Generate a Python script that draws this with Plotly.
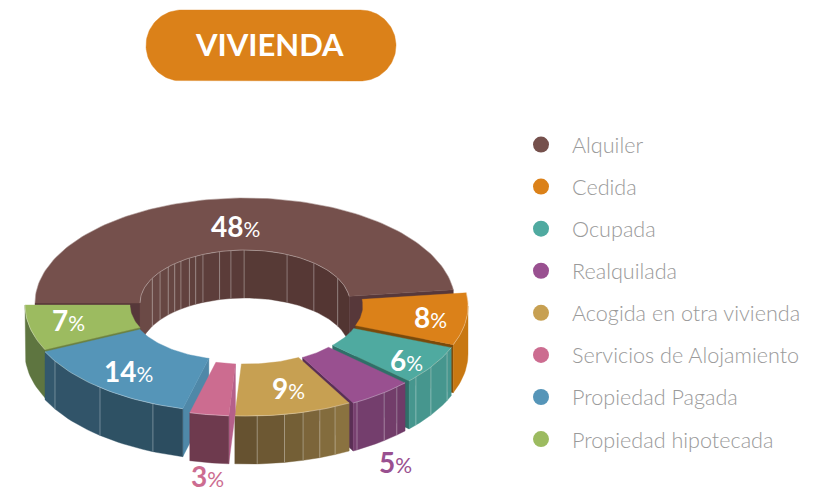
import math
import plotly.graph_objects as go

# ---- data ----
categories = ["Alquiler", "Cedida", "Ocupada", "Realquilada",
              "Acogida en otra vivienda", "Servicios de Alojamiento",
              "Propiedad Pagada", "Propiedad hipotecada"]
shares = [48, 8, 6, 5, 9, 3, 14, 7]

# ---- styles ----
top_colors = ["#75504C", "#DB8119", "#4FAAA0", "#995090", "#C7A052", "#CC6C90", "#5595B8", "#9CBB60"]
wall_from = ["#6B4A46", "#C87812", "#46968E", "#6F3B68", "#8A7240", "#6E3A4E", "#2C4D60", "#5E7540"]
wall_to = ["#523532", "#C87812", "#46968E", "#77406F", "#665230", "#6E3A4E", "#33586D", "#5E7540"]
cut_colors = ["#57383A", "#7A4A0A", "#2F6F68", "#5A2F55", "#8A7240", "#B5608A", "#4F88A8", "#6A8040"]
offsets = [(0, 0), (13, 3), (11, 6), (7, 8), (3, 8), (-3, 8), (-10, 4), (-10, 2)]
wall_lines = [
    [-62, -54, -47, -42, -37.6, -32, -28, -23.6, -14, -7.7, -0.5, 23.6, 41, 62],
    [],
    [114.5, 123.6, 130.4],
    [136.4, 141, 150],
    [155.5, 160, 164.8, 170, 177.5],
    [],
    [203, 220, 239],
    [],
]
CX, CY, RX, RY, IX, IY, DEPTH = 245, 303, 210, 105, 105, 53, 48
START = -90


def pt(rx, ry, phi, off, dz=0):
    p = math.radians(phi)
    return (CX + off[0] + rx * math.sin(p), CY + off[1] - ry * math.cos(p) + dz)


def arc(rx, ry, a, b, off, dz=0, step=1.5):
    n = max(2, int(abs(b - a) / step) + 1)
    return [pt(rx, ry, a + (b - a) * i / (n - 1), off, dz) for i in range(n)]


def mix(c1, c2, t):
    a = [int(c1[i:i + 2], 16) for i in (1, 3, 5)]
    b = [int(c2[i:i + 2], 16) for i in (1, 3, 5)]
    return "#%02X%02X%02X" % tuple(round(x + (y - x) * t) for x, y in zip(a, b))


fig = go.Figure()


def poly(points, color):
    fig.add_trace(go.Scatter(x=[p[0] for p in points] + [points[0][0]],
                             y=[p[1] for p in points] + [points[0][1]],
                             mode="lines", fill="toself", fillcolor=color,
                             line=dict(width=0.4, color=color),
                             hoverinfo="skip", showlegend=False))


def stroke(points, color="rgba(255,255,255,0.4)", width=0.8):
    fig.add_trace(go.Scatter(x=[p[0] for p in points], y=[p[1] for p in points],
                             mode="lines", line=dict(width=width, color=color),
                             hoverinfo="skip", showlegend=False))


def cut_face(phi, off, color):
    poly([pt(IX, IY, phi, off), pt(RX, RY, phi, off),
          pt(RX, RY, phi, off, DEPTH), pt(IX, IY, phi, off, DEPTH)], color)


def walls(rx, ry, a, b, off, idx):
    stops = [a] + [v for v in wall_lines[idx] if a < v < b] + [b]
    for i in range(len(stops) - 1):
        s, e = stops[i], stops[i + 1]
        col = mix(wall_from[idx], wall_to[idx], i / max(1, len(stops) - 2))
        poly(arc(rx, ry, s, e, off) + arc(rx, ry, e, s, off, DEPTH), col)
    for v in stops[1:-1]:
        stroke([pt(rx, ry, v, off), pt(rx, ry, v, off, DEPTH)])


# ---- slice angles from the shares ----
angles = []
acc = START
for v in shares:
    angles.append((acc, acc + v * 3.6))
    acc += v * 3.6

for idx in [0, 1, 2, 3, 7, 6, 4, 5]:
    a, b = angles[idx]
    off = offsets[idx]
    if a < 0:
        cut_face(a, off, cut_colors[idx])
        cut_face(b, off, cut_colors[idx])
        ia, ib = max(a, -90), min(b, 90)
        walls(IX, IY, ia, ib, off, idx)
    elif b <= 180:
        cut_face(b, off, cut_colors[idx])
    elif a >= 180:
        cut_face(a, off, cut_colors[idx])
    oa, ob = max(a, 90), min(b, 270)
    if ob > oa:
        walls(RX, RY, oa, ob, off, idx)
    poly(arc(RX, RY, a, b, off) + arc(IX, IY, b, a, off), top_colors[idx])
    if a < 0:
        stroke(arc(IX, IY, ia, ib, off), "rgba(255,255,255,0.45)", 0.7)
        stroke(arc(RX, RY, a, b, off), "rgba(255,255,255,0.35)", 0.6)
    else:
        stroke(arc(RX, RY, a, b, off), "rgba(255,255,255,0.45)", 0.7)

# ---- title pill ----
L, R, T, B = 146, 396, 10, 81
rad = (B - T) / 2
pill_pts = []
for i in range(61):
    t = math.radians(-90 + 3 * i)
    pill_pts.append((R - rad + rad * math.cos(t), T + rad + rad * math.sin(t)))
for i in range(61):
    t = math.radians(90 + 3 * i)
    pill_pts.append((L + rad + rad * math.cos(t), T + rad + rad * math.sin(t)))
poly(pill_pts, "#DB8119")

# ---- legend ----
for name, col in zip(categories, top_colors):
    fig.add_trace(go.Scatter(x=[None], y=[None], mode="markers", name=name, legendgroup=name,
                             marker=dict(size=18, color=col, symbol="circle")))

# ---- value labels ----
label_xy = [(235, 226), (430, 317), (406, 360), (395, 462), (288, 388), (207, 476), (128, 371), (68, 320)]
label_col = ["white", "white", "white", top_colors[3], "white", top_colors[5], "white", "white"]
annotations = []
for v, (lx, ly), c in zip(shares, label_xy, label_col):
    annotations.append(dict(x=lx, y=ly, xref="x", yref="y", showarrow=False,
                            text=f"<b>{v}</b><span style='font-size:21px'>%</span>",
                            font=dict(family="Lato", size=28, color=c)))
annotations.append(dict(x=269.5, y=44, xref="x", yref="y", showarrow=False,
                        text="<b>VIVIENDA</b>",
                        font=dict(family="Lato", size=31, color="white")))

fig.update_layout(
    width=823, height=493, margin=dict(l=0, r=0, t=0, b=0),
    paper_bgcolor="white", plot_bgcolor="white",
    xaxis=dict(range=[0, 823], visible=False, fixedrange=True),
    yaxis=dict(range=[493, 0], visible=False, fixedrange=True),
    annotations=annotations,
    legend=dict(x=510 / 823, y=1 - 124 / 493, xanchor="left", yanchor="top",
                font=dict(family="Lato", size=21.6, color="#9A9A9A", weight=300),
                tracegroupgap=11, itemwidth=52, bgcolor="rgba(0,0,0,0)",
                itemclick=False, itemdoubleclick=False),
    showlegend=True,
)

fig.write_html("out.html", post_script="document.body.style.margin='0';",
               config={"displayModeBar": False})
